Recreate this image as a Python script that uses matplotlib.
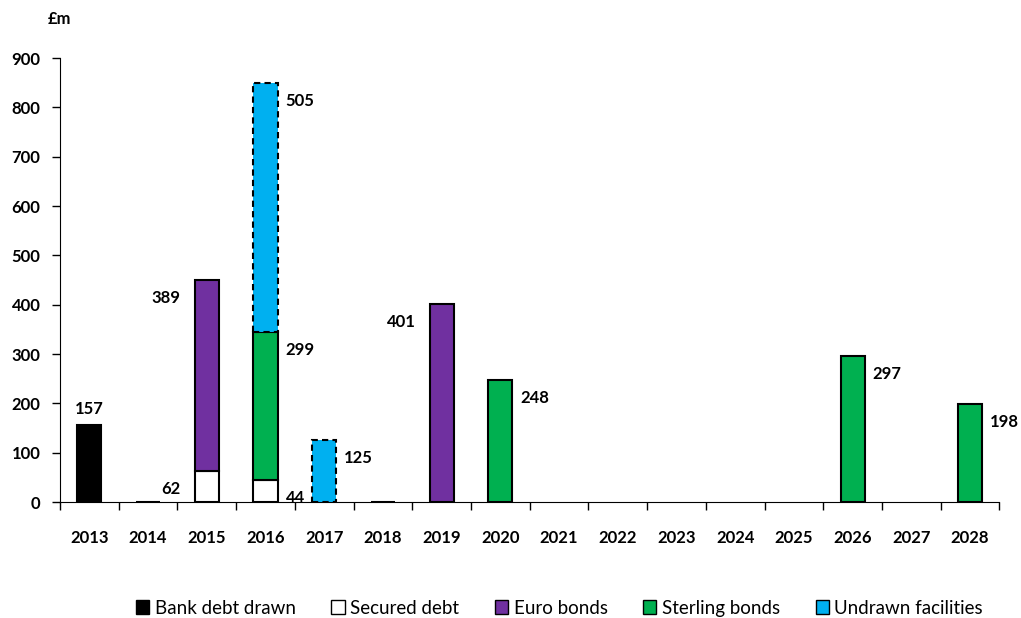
import numpy as np
import matplotlib.pyplot as plt

plt.rcParams['font.family'] = ['Lato', 'DejaVu Sans']

years = ['2013', '2014', '2015', '2016', '2017', '2018', '2019', '2020',
         '2021', '2022', '2023', '2024', '2025', '2026', '2027', '2028']
bank = [157, 0, 0, 1, 0, 0, 0, 0, 0, 0, 0, 0, 0, 0, 0, 0]
secured = [0, 1, 62, 44, 0, 1, 0, 0, 0, 0, 0, 0, 0, 0, 0, 0]
euro = [0, 0, 389, 0, 0, 0, 401, 0, 0, 0, 0, 0, 0, 0, 0, 0]
sterling = [0, 0, 0, 299, 0, 0, 0, 248, 0, 0, 0, 0, 0, 297, 0, 198]
undrawn = [0, 0, 0, 505, 125, 0, 0, 0, 0, 0, 0, 0, 0, 0, 0, 0]

fig = plt.figure(figsize=(10.21, 6.18), dpi=100)
ax = fig.add_axes([0.0588, 0.1877, 0.92, 0.7183])

x = np.arange(len(years))
w = 0.41
series = [
    ('Bank debt drawn', bank, 'black', 'black', 'solid'),
    ('Secured debt', secured, 'white', 'black', 'solid'),
    ('Euro bonds', euro, '#7030A0', 'black', 'solid'),
    ('Sterling bonds', sterling, '#00B050', 'black', 'solid'),
    ('Undrawn facilities', undrawn, '#00B0F0', 'black', (0, (3, 2))),
]
bottom = np.zeros(len(years))
tops = {}
for name, vals, fc, ec, ls in series:
    v = np.array(vals, dtype=float)
    mask = v > 0
    ax.bar(x[mask], v[mask], w, bottom=bottom[mask], color=fc, edgecolor=ec,
           linewidth=1.5, linestyle=ls, zorder=3)
    ax.bar([np.nan], [0], w, color=fc, edgecolor=ec, linewidth=1, label=name)
    bottom = bottom + v
    tops[name] = bottom.copy()

# data labels: (series, values, year index, side)
labels = [
    ('Bank debt drawn', bank, 0, 'top'),
    ('Secured debt', secured, 2, 'left'),
    ('Euro bonds', euro, 2, 'left'),
    ('Secured debt', secured, 3, 'right'),
    ('Sterling bonds', sterling, 3, 'right'),
    ('Undrawn facilities', undrawn, 3, 'right'),
    ('Undrawn facilities', undrawn, 4, 'right'),
    ('Euro bonds', euro, 6, 'left'),
    ('Sterling bonds', sterling, 7, 'right'),
    ('Sterling bonds', sterling, 13, 'right'),
    ('Sterling bonds', sterling, 15, 'right'),
]
for name, vals, i, side in labels:
    top = tops[name][i]
    if side == 'top':
        ax.annotate(str(vals[i]), (x[i], top), xytext=(0, 16), textcoords='offset pixels',
                    ha='center', va='center', fontsize=12, fontweight='bold')
    elif side == 'right':
        ax.annotate(str(vals[i]), (x[i] + w / 2, top), xytext=(8, -18), textcoords='offset pixels',
                    ha='left', va='center', fontsize=12, fontweight='bold')
    else:
        ax.annotate(str(vals[i]), (x[i] - w / 2, top), xytext=(-14, -18), textcoords='offset pixels',
                    ha='right', va='center', fontsize=12, fontweight='bold')

ax.set_xlim(-0.5, len(years) - 0.5)
ax.set_ylim(0, 900)
ax.set_yticks(range(0, 901, 100))
ax.set_xticks(x)
ax.set_xticklabels(years, fontweight='bold', fontsize=12)
ax.set_xticks(np.arange(-0.5, len(years), 1), minor=True)
ax.tick_params(axis='x', which='major', length=0, pad=20)
ax.tick_params(axis='x', which='minor', length=6, width=1, direction='out')
ax.tick_params(axis='y', length=6, width=1, labelsize=12, pad=8)
for t in ax.get_yticklabels():
    t.set_fontweight('bold')
ax.spines['top'].set_visible(False)
ax.spines['right'].set_visible(False)

fig.text(0.047, 0.97, '£m', fontsize=12, fontweight='bold', va='center')

fig.legend(loc='center', bbox_to_anchor=(0.548, 0.016), ncol=5, frameon=False,
           fontsize=13.5, handlelength=0.7, handleheight=0.7, handletextpad=0.3,
           columnspacing=1.9, borderpad=0)

fig.savefig('out.png', dpi=100)
